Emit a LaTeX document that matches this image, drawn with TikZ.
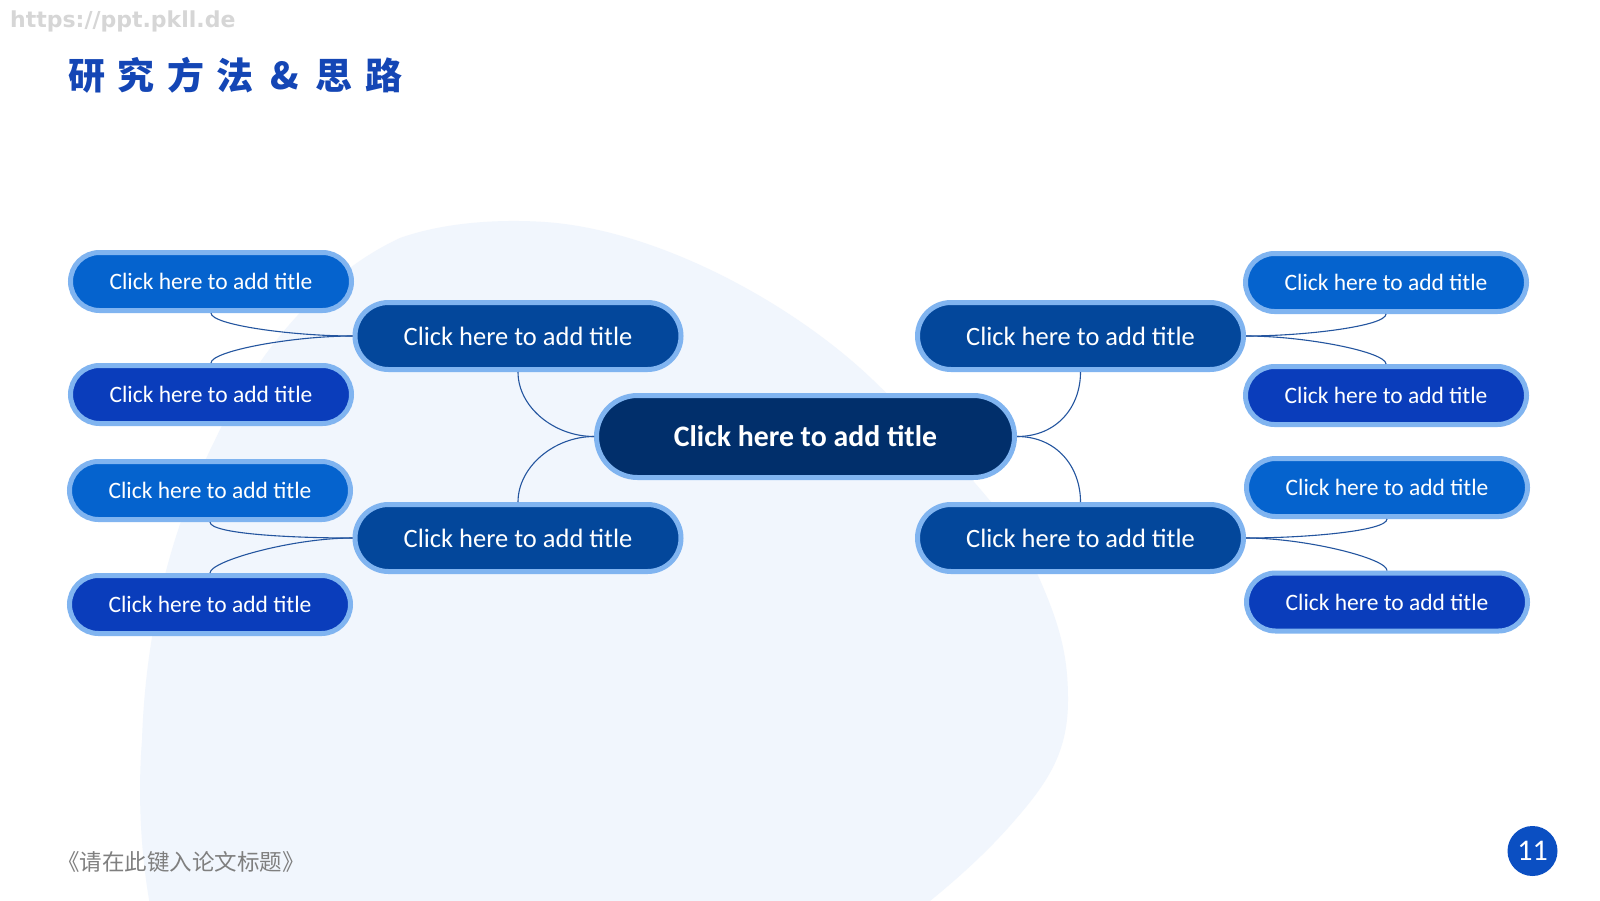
\documentclass[tikz,border=0pt]{standalone}
\usepackage{fontspec}
\setmainfont{Carlito}
\newfontfamily\cjk{Noto Sans CJK SC}
\newfontfamily\wmfont{DejaVu Sans}
\definecolor{smallup}{HTML}{0563CE}
\definecolor{smalllow}{HTML}{0A3DBB}
\definecolor{midblue}{HTML}{03479B}
\definecolor{hubblue}{HTML}{012F6B}
\definecolor{rimblue}{HTML}{80B4F0}
\definecolor{linkblue}{HTML}{24559F}
\definecolor{titleblue}{HTML}{1446B5}
\definecolor{blobfill}{HTML}{F1F6FD}
\definecolor{pageblue}{HTML}{0B4FC2}
\definecolor{footgray}{HTML}{7F7F7F}
\definecolor{wmgray}{HTML}{D6D6D6}
\tikzset{
  pill/.style={draw=rimblue, line width=5pt, inner sep=0pt, text=white},
  smallA/.style={pill, fill=smallup, minimum width=281pt, minimum height=58pt, rounded corners=29pt, font=\fontsize{23.5}{28}\selectfont},
  smallB/.style={smallA, fill=smalllow},
  midbox/.style={pill, fill=midblue, minimum width=326pt, minimum height=67pt, rounded corners=33.5pt, font=\fontsize{26.5}{30}\selectfont},
  hubbox/.style={pill, fill=hubblue, minimum width=418pt, minimum height=82pt, rounded corners=41pt, font=\bfseries\fontsize{29.8}{34}\selectfont},
  link/.style={draw=linkblue, line width=1.1pt}
}
\begin{document}
\begin{tikzpicture}[x=1pt,y=-1pt]
\useasboundingbox (0,0) rectangle (1600,900);
\fill[white] (0,0) rectangle (1600,900);
\begin{scope}
\clip (0,0) rectangle (1600,900);
\fill[blobfill] (150,905)
  .. controls (140,850) and (138,790) .. (142,740)
  .. controls (146,620) and (175,520) .. (215,440)
  .. controls (255,355) and (320,275) .. (400,238)
  .. controls (445,222) and (500,219) .. (545,222)
  .. controls (660,230) and (795,305) .. (873,380)
  .. controls (945,450) and (1010,510) .. (1040,580)
  .. controls (1062,630) and (1068,660) .. (1068,700)
  .. controls (1068,750) and (1050,780) .. (1015,820)
  .. controls (985,855) and (950,885) .. (925,905)
  -- cycle;
\end{scope}

\node[anchor=west, inner sep=0pt, text=wmgray, font=\wmfont\bfseries\fontsize{22}{24}\selectfont] (wm) at (10,21) {https://ppt.pkll.de};
\node[anchor=west, inner sep=0pt, text=titleblue, font=\cjk\bfseries\fontsize{37}{40}\selectfont] (title) at (68,75.5)
  {研\hspace{12.5pt}究\hspace{12.5pt}方\hspace{12.5pt}法\hspace{12.5pt}\makebox[37pt]{\&}\hspace{12.5pt}思\hspace{12.5pt}路};

% nodes
\node[hubbox] (c) at (805.5,436.5) {Click here to add title};
\node[midbox] (m1) at (518,336) {Click here to add title};
\node[midbox] (m2) at (518,538) {Click here to add title};
\node[midbox] (m3) at (1080.5,336) {Click here to add title};
\node[midbox] (m4) at (1080.5,538) {Click here to add title};
\node[smallA] (s1) at (211,281.5) {Click here to add title};
\node[smallB] (s2) at (211,394.5) {Click here to add title};
\node[smallA] (s3) at (210,490.5) {Click here to add title};
\node[smallB] (s4) at (210,604.5) {Click here to add title};
\node[smallA] (s5) at (1386,282.5) {Click here to add title};
\node[smallB] (s6) at (1386,395.5) {Click here to add title};
\node[smallA] (s7) at (1387,487.5) {Click here to add title};
\node[smallB] (s8) at (1387,602) {Click here to add title};

% connectors hub to mid
\draw[link] (m1.south) .. controls +(0,35) and +(-40,0) .. (c.west);
\draw[link] (m2.north) .. controls +(0,-35) and +(-40,0) .. (c.west);
\draw[link] (m3.south) .. controls +(0,35) and +(40,0) .. (c.east);
\draw[link] (m4.north) .. controls +(0,-35) and +(40,0) .. (c.east);
% connectors mid to small
\draw[link] (s1.south) .. controls +(0,12) and +(-60,0) .. (m1.west);
\draw[link] (s2.north) .. controls +(0,-12) and +(-60,0) .. (m1.west);
\draw[link] (s3.south) .. controls +(0,12) and +(-60,0) .. (m2.west);
\draw[link] (s4.north) .. controls +(0,-12) and +(-60,0) .. (m2.west);
\draw[link] (s5.south) .. controls +(0,12) and +(60,0) .. (m3.east);
\draw[link] (s6.north) .. controls +(0,-12) and +(60,0) .. (m3.east);
\draw[link] (s7.south) .. controls +(0,12) and +(60,0) .. (m4.east);
\draw[link] (s8.north) .. controls +(0,-12) and +(60,0) .. (m4.east);

\node[anchor=west, inner sep=0pt, text=footgray, font=\cjk\fontsize{22.5}{26}\selectfont] (foot) at (57,862) {《请在此键入论文标题》};
\node[circle, fill=pageblue, minimum size=50pt, inner sep=0pt, text=white, font=\fontsize{30}{30}\selectfont] (pg) at (1532.5,851) {11};
\end{tikzpicture}
\end{document}
